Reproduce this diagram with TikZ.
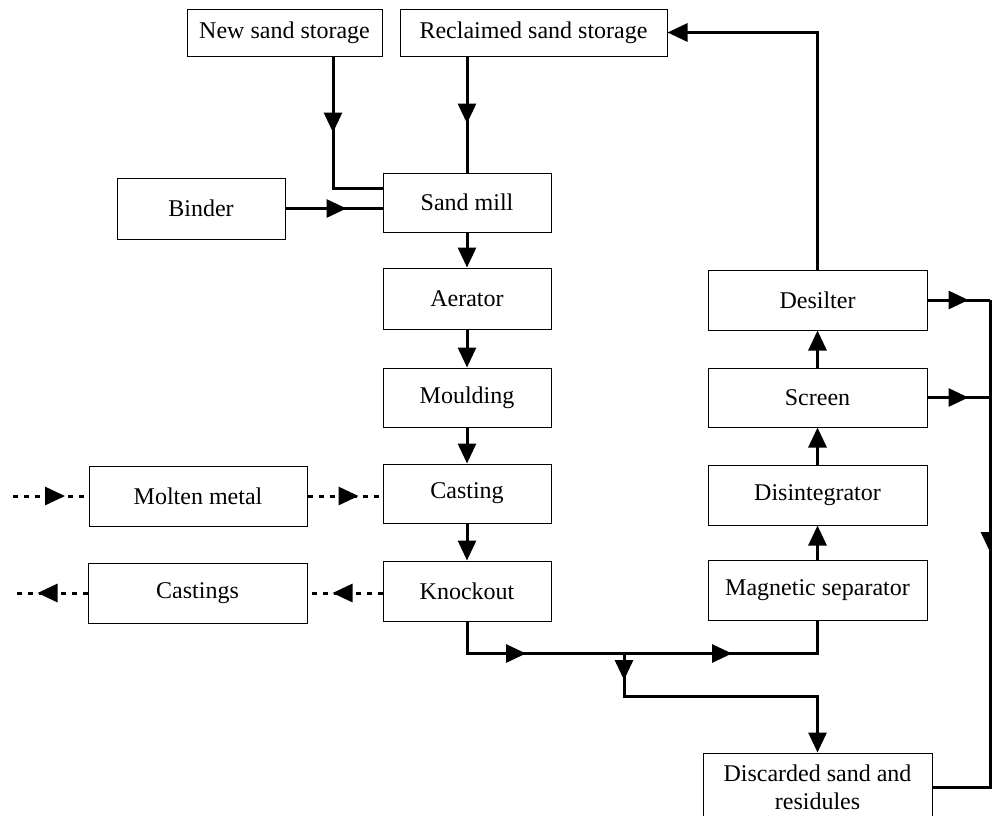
\documentclass[tikz,border=0pt]{standalone}
\usepackage{fontspec}
\setmainfont{Liberation Serif}
\usetikzlibrary{arrows.meta,decorations.markings}
\tikzset{
  box/.style={draw,line width=1pt,inner sep=0pt,align=center,font=\fontsize{24}{28}\selectfont},
  flow/.style={line width=3pt},
  endtip/.style={-{Triangle[length=20pt,width=18pt]}},
  midarrow/.style={postaction={decorate},decoration={markings,mark=at position #1 with {\arrow{Triangle[length=20pt,width=18pt]}}}},
  dotline/.style={line width=3pt,dash pattern=on 5pt off 6pt}
}
\begin{document}
\begin{tikzpicture}[x=1pt,y=-1pt]
\useasboundingbox (0,0) rectangle (992,815);
% left / centre column
\node[box,minimum width=195pt,minimum height=47pt] (new) at (284.5,32.5) {New sand storage};
\node[box,minimum width=267pt,minimum height=47pt] (recl) at (533.5,32.5) {Reclaimed sand storage};
\node[box,minimum width=168pt,minimum height=59pt] (mill) at (467,202.5) {Sand mill};
\node[box,minimum width=168pt,minimum height=61pt] (binder) at (201,208.5) {Binder};
\node[box,minimum width=168pt,minimum height=61pt] (aerator) at (467,298.5) {Aerator};
\node[box,minimum width=168pt,minimum height=59pt] (moulding) at (467,397.5) {Moulding};
\node[box,minimum width=168pt,minimum height=59pt] (casting) at (467,493.5) {Casting};
\node[box,minimum width=168pt,minimum height=60pt] (knockout) at (467,591) {Knockout};
\node[box,minimum width=218pt,minimum height=60pt] (molten) at (198,496) {Molten metal};
\node[box,minimum width=219pt,minimum height=60pt] (castings) at (197.5,593) {Castings};
% right column
\node[box,minimum width=219pt,minimum height=60pt] (desilter) at (817.5,300) {Desilter};
\node[box,minimum width=219pt,minimum height=59pt] (screen) at (817.5,397.5) {Screen};
\node[box,minimum width=219pt,minimum height=60pt] (disint) at (817.5,495) {Disintegrator};
\node[box,minimum width=219pt,minimum height=60pt] (magsep) at (817.5,590) {Magnetic separator};
\node[box,minimum width=229pt,minimum height=68pt] (disc) at (817.5,787) {Discarded sand and\\residules};
% coordinates
\coordinate (br) at (624,653);
\coordinate (rt) at (990,300);
\coordinate (inL) at (13,496);
\coordinate (outL) at (13,593);
% sand feed
\draw[flow,midarrow=76pt] ([xshift=48.5pt]new.south) |- ([yshift=14.5pt]mill.west);
\draw[flow,midarrow=67pt] (recl.south -| mill.north) -- (mill.north);
\draw[flow,midarrow=61pt] (binder.east) -- (binder.east -| mill.west);
% main line
\draw[flow,endtip] (mill.south) -- (aerator.north);
\draw[flow,endtip] (aerator.south) -- (moulding.north);
\draw[flow,endtip] (moulding.south) -- (casting.north);
\draw[flow,endtip] (casting.south) -- (knockout.north);
% knockout to magnetic separator
\draw[flow,postaction={decorate},decoration={markings,
  mark=at position 91pt with {\arrow{Triangle[length=20pt,width=18pt]}},
  mark=at position 297pt with {\arrow{Triangle[length=20pt,width=18pt]}}}]
  (knockout.south) -- ++(0,32) -| (magsep.south);
\draw[flow,endtip,midarrow=27pt] (br) -- ++(0,43) -| (disc.north);
% reclamation chain
\draw[flow,endtip] (magsep.north) -- (disint.south);
\draw[flow,endtip] (disint.north) -- (screen.south);
\draw[flow,endtip] (screen.north) -- (desilter.south);
\draw[flow,endtip] (desilter.north) |- (recl.east);
% fines to waste
\draw[flow,midarrow=41pt] (desilter.east) -- (desilter.east -| rt);
\draw[flow,midarrow=41pt] (screen.east) -- (screen.east -| rt);
\draw[flow,midarrow=252pt] (rt) |- (disc.east);
% metal
\draw[dotline,midarrow=52pt] (inL) -- (molten.west);
\draw[dotline,midarrow=51pt] (molten.east) -- (molten.east -| casting.west);
\draw[dotline,midarrow=50pt] (castings.east -| knockout.west) -- (castings.east);
\draw[dotline,midarrow=50pt] (castings.west) -- (outL);
\end{tikzpicture}
\end{document}
